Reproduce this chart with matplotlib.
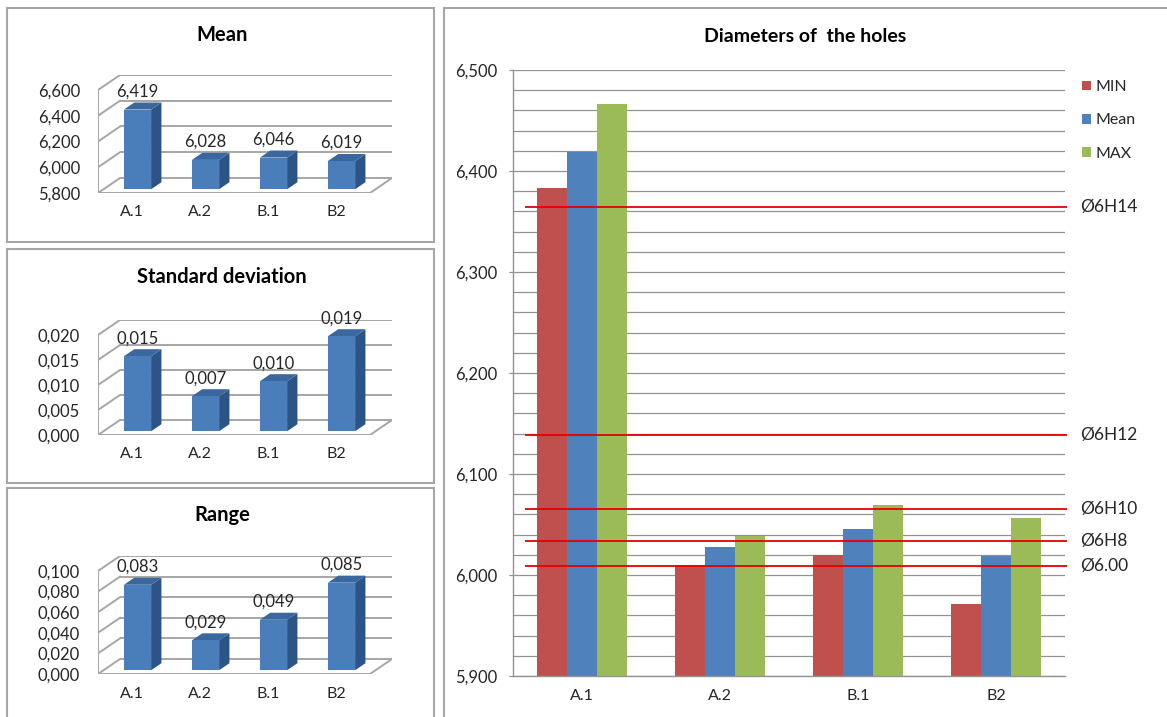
import matplotlib
matplotlib.use("Agg")
import matplotlib.pyplot as plt
from matplotlib.patches import Polygon, Rectangle
import matplotlib.transforms as mtransforms

plt.rcParams['font.family'] = ['Lato', 'DejaVu Sans']

# ---- data -------------------------------------------------------------
categories = ["A.1", "A.2", "B.1", "B2"]
mean_values = [6.419, 6.028, 6.046, 6.019]
std_values = [0.015, 0.007, 0.010, 0.019]
range_values = [0.083, 0.029, 0.049, 0.085]
min_values = [6.383, 6.010, 6.020, 5.971]
max_values = [6.466, 6.039, 6.069, 6.056]
series_names = ["MIN", "Mean", "MAX"]
tolerance_names = ["Ø6H14", "Ø6H12", "Ø6H10", "Ø6H8", "Ø6.00"]
tolerance_limits = [6.364, 6.139, 6.065, 6.034, 6.009]

W, H = 1167, 717
fig = plt.figure(figsize=(W / 100, H / 100), dpi=100)
fig.patch.set_facecolor("white")


def fx(x):
    return x / W


def fy(y):
    return 1 - y / H


def comma(v, nd=3):
    return f"{v:.{nd}f}".replace(".", ",")


BORDER = "#a6a6a6"
TXT = "#262626"

# panel frames
for x0, y0, x1, y1 in [(7, 8, 434, 242), (7, 249, 434, 483),
                       (7, 488, 434, 730), (444, 8, 1180, 730)]:
    fig.patches.append(Rectangle((fx(x0), fy(y1)), fx(x1 - x0), (y1 - y0) / H,
                                 transform=fig.transFigure, fill=False,
                                 edgecolor=BORDER, lw=1.5))

# ---- small pseudo-3D column charts ---------------------------------------
SLOT = 68.0      # px per category on the floor
DXPX = 22.0      # depth offset (right)
DYPX = 15.0      # depth offset (up)
FRONT_X = 98.0
FACE = "#4a7ebb"
SIDE = "#2d5486"
TOP = "#39679e"
WALL = "#a6a6a6"


def small_panel(title, title_y, values, vmin, vmax, step, y_bot, y_top):
    n = len(values)
    right = FRONT_X + n * SLOT + DXPX
    ax = fig.add_axes([fx(FRONT_X), fy(y_bot), fx(right - FRONT_X),
                       (y_bot - (y_top - DYPX)) / H])
    per_px = (vmax - vmin) / (y_bot - y_top)
    dxu = DXPX / SLOT
    dyu = DYPX * per_px
    ax.set_xlim(0, n + dxu)
    ax.set_ylim(vmin, vmax + dyu)
    for s in ax.spines.values():
        s.set_visible(False)

    ticks = []
    t = vmin
    while t <= vmax + 1e-9:
        ticks.append(round(t, 6))
        t += step
    # back wall gridlines and left wall diagonals
    for v in ticks:
        ax.plot([dxu, n + dxu], [v + dyu, v + dyu], color=WALL, lw=1.4,
                solid_capstyle="butt", zorder=1)
        ax.plot([0, dxu], [v, v + dyu], color=WALL, lw=1.4, zorder=1)
    # front left edge and floor
    ax.plot([0, 0], [vmin, vmax], color=WALL, lw=1.4, zorder=1)
    ax.plot([0, n, n + dxu], [vmin, vmin, vmin + dyu], color=WALL, lw=1.4,
            zorder=1)

    ax.set_yticks(ticks)
    ax.set_yticklabels([comma(v) for v in ticks])
    ax.tick_params(axis="y", length=0, pad=13, labelsize=12, labelcolor=TXT)
    centers = [i + 0.5 for i in range(n)]
    ax.set_xticks(centers)
    ax.set_xticklabels(categories)
    ax.tick_params(axis="x", length=0, pad=9, labelsize=11.5, labelcolor=TXT)

    hw, z0, z1 = 0.2, 0.25, 0.72
    for c, v in zip(centers, values):
        xl, xr = c - hw, c + hw
        front = [(xl + z0 * dxu, vmin + z0 * dyu), (xr + z0 * dxu, vmin + z0 * dyu),
                 (xr + z0 * dxu, v + z0 * dyu), (xl + z0 * dxu, v + z0 * dyu)]
        side = [(xr + z0 * dxu, vmin + z0 * dyu), (xr + z1 * dxu, vmin + z1 * dyu),
                (xr + z1 * dxu, v + z1 * dyu), (xr + z0 * dxu, v + z0 * dyu)]
        top = [(xl + z0 * dxu, v + z0 * dyu), (xr + z0 * dxu, v + z0 * dyu),
               (xr + z1 * dxu, v + z1 * dyu), (xl + z1 * dxu, v + z1 * dyu)]
        ax.add_patch(Polygon(side, closed=True, facecolor=SIDE, edgecolor="none", zorder=3))
        ax.add_patch(Polygon(top, closed=True, facecolor=TOP, edgecolor="none", zorder=3))
        ax.add_patch(Polygon(front, closed=True, facecolor=FACE, edgecolor="none", zorder=4))
        ax.annotate(comma(v), xy=(c + z0 * dxu, v + z0 * dyu), xytext=(0, 13),
                    textcoords="offset points", ha="center", va="center",
                    fontsize=12, color=TXT, zorder=5, annotation_clip=False)

    fig.text(fx(222), fy(title_y), title, ha="center", va="center",
             fontsize=14.5, fontweight="bold", color="black")


small_panel("Mean", 35, mean_values, 5.8, 6.6, 0.2, 193, 90)
small_panel("Standard deviation", 277, std_values, 0.0, 0.02, 0.005, 435, 335)
small_panel("Range", 515, range_values, 0.0, 0.1, 0.02, 674, 571)

# ---- main clustered column chart ----------------------------------------
AX_L, AX_R, AX_T, AX_B = 513, 1065, 70, 676
ax = fig.add_axes([fx(AX_L), fy(AX_B), fx(AX_R - AX_L), (AX_B - AX_T) / H])
ax.set_xlim(-0.5, len(categories) - 0.5)
ax.set_ylim(5.9, 6.5)
ax.set_axisbelow(True)

major = [5.9, 6.0, 6.1, 6.2, 6.3, 6.4, 6.5]
minor = [round(5.9 + 0.02 * k, 2) for k in range(31)]
ax.set_yticks(major)
ax.set_yticklabels([comma(v) for v in major])
ax.set_yticks(minor, minor=True)
ax.grid(which="both", axis="y", color="#939393", lw=0.9)
ax.tick_params(axis="y", which="major", length=3, width=0.9, color="#939393",
               pad=8, labelsize=12, labelcolor=TXT)
ax.tick_params(axis="y", which="minor", length=0)
xs = list(range(len(categories)))
ax.set_xticks(xs)
ax.set_xticklabels(categories)
ax.tick_params(axis="x", length=0, pad=9, labelsize=11.5, labelcolor=TXT)
for side in ("top", "right"):
    ax.spines[side].set_visible(False)
for side in ("left", "bottom"):
    ax.spines[side].set_color("#939393")
    ax.spines[side].set_linewidth(1.0)

bw = 0.217
colors = ["#c0504d", "#4f81bd", "#9bbb59"]
handles = []
for k, (vals, name, col) in enumerate(zip([min_values, mean_values, max_values],
                                         series_names, colors)):
    b = ax.bar([x + (k - 1) * bw for x in xs], vals, width=bw, color=col,
               label=name, zorder=2)
    handles.append(b)

# tolerance limits
ax.hlines(tolerance_limits, -0.413, 3.515, colors="#e60000", lw=1.3,
          zorder=3, clip_on=False)
trans = mtransforms.blended_transform_factory(ax.transAxes, ax.transData)
for name, v in zip(tolerance_names, tolerance_limits):
    ax.text(1.027, v, name, transform=trans, ha="left", va="center",
            fontsize=12.5, color=TXT)

ax.legend(handles=handles, loc="upper left", bbox_to_anchor=(1.031, 0.983),
          frameon=False, fontsize=11.5, handlelength=0.55, handleheight=0.55,
          handletextpad=0.3, labelspacing=1.2, borderpad=0, borderaxespad=0,
          labelcolor=TXT)

fig.text(fx(805), fy(37), "Diameters of  the holes", ha="center", va="center",
         fontsize=14, fontweight="bold", color="black")

fig.savefig("out.png", dpi=100)
